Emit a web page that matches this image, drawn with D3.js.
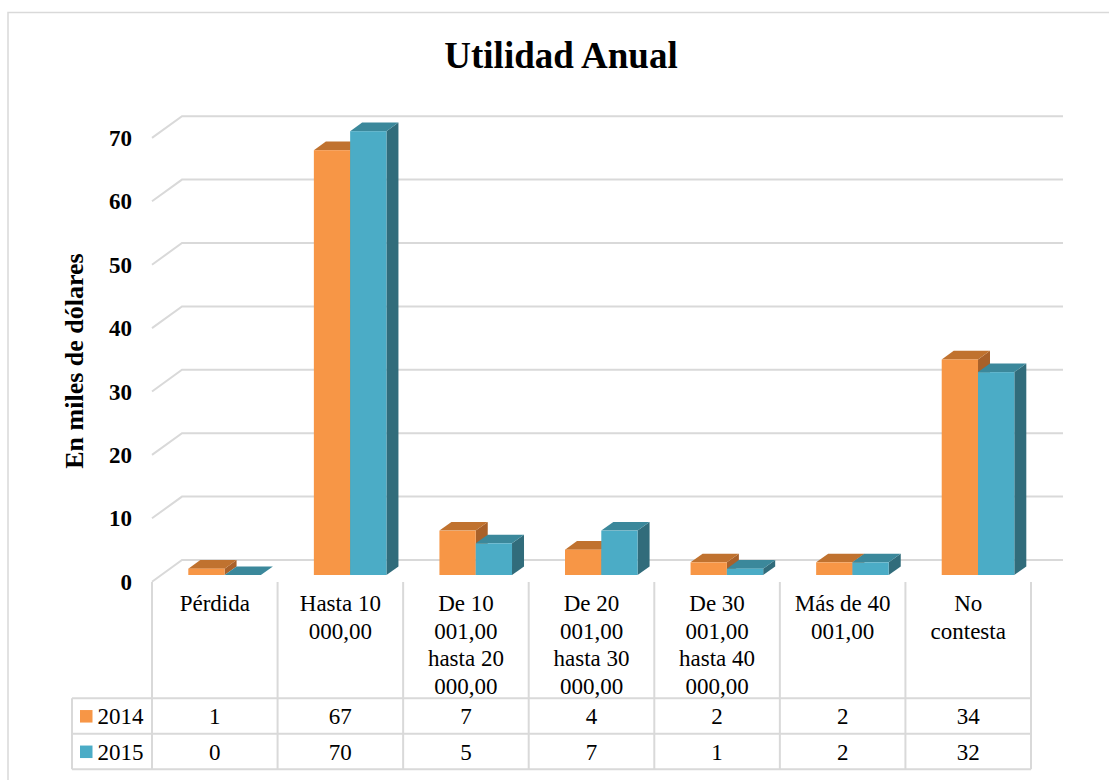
<!DOCTYPE html>
<html>
<head>
<meta charset="utf-8">
<script src="https://cdn.jsdelivr.net/npm/d3@7"></script>
<style>
  body { margin: 0; background: #fff; }
  svg { display: block; }
  text { font-family: "Times New Roman", "Liberation Serif", Times, "DejaVu Serif", serif; }
</style>
</head>
<body>
<svg id="chart" width="1109" height="780"></svg>
<script>
// data
var categories = [
  ["Pérdida"],
  ["Hasta 10", "000,00"],
  ["De 10", "001,00", "hasta 20", "000,00"],
  ["De 20", "001,00", "hasta 30", "000,00"],
  ["De 30", "001,00", "hasta 40", "000,00"],
  ["Más de 40", "001,00"],
  ["No", "contesta"]
];
var years = ["2014", "2015"];
var values2014 = [1, 67, 7, 4, 2, 2, 34];
var values2015 = [0, 70, 5, 7, 1, 2, 32];
var yTicks = [0, 10, 20, 30, 40, 50, 60, 70];

var series = [values2014, values2015];
var colors = [
  { front: "#f79646", top: "#c0722f", side: "#a9612a" },
  { front: "#4bacc6", top: "#3b889b", side: "#316c7b" }
];

var svg = d3.select("#chart");
var grid = "#d9d9d9";

// layout (3d projection offsets)
var left = 152, right = 1031;
var wallDx = 30, wallDy = -21.7;   // back wall offset
var barFront = 6.7;                // bars sit a bit behind the floor front
var depthDx = 12, depthDy = -8.6;  // bar depth

var x = d3.scaleBand().domain(d3.range(categories.length)).range([left, right]);
var y = d3.scaleLinear().domain([0, 70]).range([581.7, 581.7 - 70 * 6.34]);

// chart border
svg.append("rect")
  .attr("x", 8).attr("y", 12.5).attr("width", 1200).attr("height", 900)
  .attr("fill", "none").attr("stroke", grid).attr("stroke-width", 1.5);

// title
svg.append("text")
  .attr("x", 561).attr("y", 67.5)
  .attr("text-anchor", "middle")
  .attr("font-weight", "bold").attr("font-size", 37)
  .text("Utilidad Anual");

// gridlines: back wall + left wall diagonal
var g = svg.append("g").attr("stroke", grid).attr("stroke-width", 2).attr("fill", "none");
yTicks.forEach(function(v) {
  g.append("path")
    .attr("d", d3.line()([
      [left, y(v)],
      [left + wallDx, y(v) + wallDy],
      [right + wallDx + 2, y(v) + wallDy]
    ]));
});

// tick labels
svg.append("g").selectAll("text").data(yTicks).enter().append("text")
  .attr("x", 132).attr("y", function(d) { return y(d); })
  .attr("dy", "0.35em")
  .attr("text-anchor", "end")
  .attr("font-weight", "bold").attr("font-size", 23)
  .text(function(d) { return d; });

// y axis title
svg.append("text")
  .attr("transform", "translate(83,361) rotate(-90)")
  .attr("text-anchor", "middle")
  .attr("font-weight", "bold").attr("font-size", 26)
  .text("En miles de dólares");

// bars
var bw = x.bandwidth() / 3.46;
var bars = svg.append("g");
categories.forEach(function(c, i) {
  series.forEach(function(vals, s) {
    var x0 = x(i) + x.bandwidth() * 0.289 + s * bw;
    var x1 = x0 + bw;
    var yb = y(0) - barFront;
    var yt = y(vals[i]) - barFront;
    var col = colors[s];
    // side
    bars.append("path")
      .attr("d", d3.line()([[x1, yb], [x1 + depthDx, yb + depthDy], [x1 + depthDx, yt + depthDy], [x1, yt]]) + "Z")
      .attr("fill", col.side);
    // top
    bars.append("path")
      .attr("d", d3.line()([[x0, yt], [x0 + depthDx, yt + depthDy], [x1 + depthDx, yt + depthDy], [x1, yt]]) + "Z")
      .attr("fill", col.top);
    // front
    bars.append("rect")
      .attr("x", x0).attr("y", yt)
      .attr("width", bw).attr("height", Math.max(0, yb - yt))
      .attr("fill", col.front);
  });
});

// data table
var tTop = 582, tHead = 698.3, tRow = 35.5, legLeft = 72;
var t = svg.append("g").attr("stroke", grid).attr("stroke-width", 2);
d3.range(categories.length + 1).forEach(function(i) {
  var xx = i < categories.length ? x(i) : right;
  t.append("line").attr("x1", xx).attr("x2", xx).attr("y1", tTop).attr("y2", tHead + 2 * tRow);
});
[0, 1, 2].forEach(function(r) {
  t.append("line").attr("x1", legLeft).attr("x2", right)
    .attr("y1", tHead + r * tRow).attr("y2", tHead + r * tRow);
});
t.append("line").attr("x1", legLeft).attr("x2", legLeft).attr("y1", tHead).attr("y2", tHead + 2 * tRow);

// category labels
var labels = svg.append("g").attr("font-size", 23).attr("text-anchor", "middle");
categories.forEach(function(lines, i) {
  lines.forEach(function(line, k) {
    labels.append("text")
      .attr("x", x(i) + x.bandwidth() / 2)
      .attr("y", 611 + k * 27.6)
      .text(line);
  });
});

// table rows
series.forEach(function(vals, s) {
  var cy = tHead + s * tRow + tRow / 2;
  svg.append("rect")
    .attr("x", 80).attr("y", cy - 6).attr("width", 12.5).attr("height", 12.5)
    .attr("fill", colors[s].front);
  svg.append("text")
    .attr("x", 97.5).attr("y", cy).attr("dy", "0.35em")
    .attr("font-size", 23)
    .text(years[s]);
  svg.append("g").selectAll("text").data(vals).enter().append("text")
    .attr("x", function(d, i) { return x(i) + x.bandwidth() / 2; })
    .attr("y", cy).attr("dy", "0.35em")
    .attr("font-size", 23).attr("text-anchor", "middle")
    .text(function(d) { return d; });
});
</script>
</body>
</html>
